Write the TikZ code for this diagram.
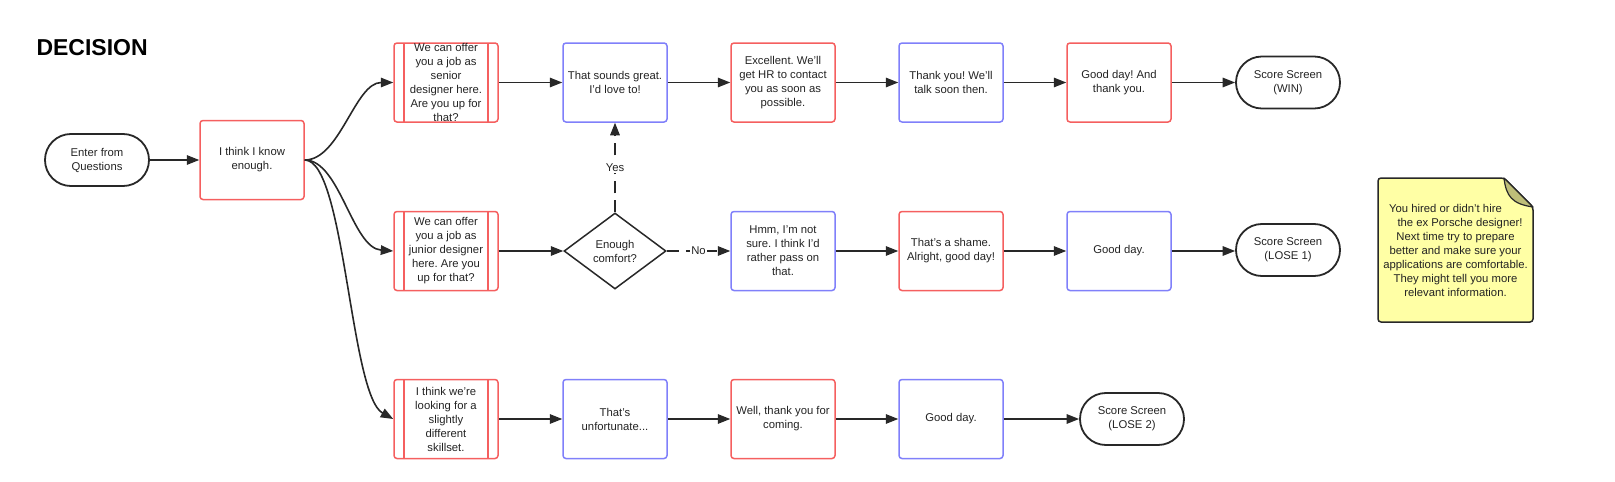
\documentclass[tikz,border=0pt]{standalone}
\usepackage{fontspec}
\setmainfont{Liberation Sans}
\usetikzlibrary{arrows.meta,shapes.geometric}
\definecolor{bred}{RGB}{245,95,95}
\definecolor{bblue}{RGB}{128,128,250}
\definecolor{ink}{RGB}{35,35,35}
\definecolor{edgec}{RGB}{40,40,40}
\definecolor{notefill}{RGB}{255,255,165}
\definecolor{foldfill}{RGB}{190,190,120}
\frenchspacing
\begin{document}
\begin{tikzpicture}[x=1pt,y=-1pt,
  font=\fontsize{11.3}{14}\selectfont, text=ink,
  box/.style={draw, line width=1.5pt, rounded corners=3pt, minimum width=104pt, minimum height=79pt, inner sep=0pt, align=center},
  rbox/.style={box, draw=bred},
  bbox/.style={box, draw=bblue},
  sbox/.style={rbox, path picture={\draw[bred,line width=1.5pt]
     ([xshift=10pt]path picture bounding box.north west) -- ([xshift=10pt]path picture bounding box.south west)
     ([xshift=-10pt]path picture bounding box.north east) -- ([xshift=-10pt]path picture bounding box.south east);}},
  term/.style={draw=edgec, line width=1.8pt, rounded corners=25.9pt, minimum width=104pt, minimum height=52pt, inner sep=0pt, align=center},
  dec/.style={diamond, aspect=1.34, draw=edgec, line width=1.5pt, minimum width=102pt, minimum height=76pt, inner sep=0pt, align=center},
  conn/.style={draw=edgec, line width=1.6pt, -{Triangle[length=12.5pt,width=9.5pt]}},
  dsh/.style={conn, dash pattern=on 12pt off 7pt},
  lbl/.style={fill=white, inner sep=1.5pt, text=ink}
]
\useasboundingbox (0,0) rectangle (1615,482);

\node[anchor=base west, font=\fontsize{23}{28}\selectfont\bfseries, text=black] (title) at (33,55) {DECISION};

% left part
\node[term] (enter) at (97,160) {Enter from\\Questions};
\node[rbox] (think) at (252,160) {I think I know\\enough.};

% column A
\node[sbox, label={[align=center, text=ink]center:We can offer\\you a job as\\senior\\designer here.\\Are you up for\\that?}] (a1) at (446,82.5) {};
\node[sbox] (a2) at (446,251) {We can offer\\you a job as\\junior designer\\here. Are you\\up for that?};
\node[sbox] (a3) at (446,419) {I think we're\\looking for a\\slightly\\different\\skillset.};

% row 1
\node[bbox] (b1) at (615,82.5) {That sounds great.\\I'd love to!};
\node[rbox] (c1) at (783,82.5) {Excellent. We'll\\get HR to contact\\you as soon as\\possible.};
\node[bbox] (d1) at (951,82.5) {Thank you! We'll\\talk soon then.};
\node[rbox] (e1) at (1119,82.5) {Good day! And\\thank you.};
\node[term] (f1) at (1288,82.5) {Score Screen\\(WIN)};

% row 2
\node[dec] (dia) at (615,251) {Enough\\comfort?};
\node[bbox] (c2) at (783,251) {Hmm, I'm not\\sure. I think I'd\\rather pass on\\that.};
\node[rbox] (d2) at (951,251) {That's a shame.\\Alright, good day!};
\node[bbox] (e2) at (1119,251) {Good day.};
\node[term] (f2) at (1288,250) {Score Screen\\(LOSE 1)};

% row 3
\node[bbox] (b3) at (615,419) {That's\\unfortunate...};
\node[rbox] (c3) at (783,419) {Well, thank you for\\coming.};
\node[bbox] (d3) at (951,419) {Good day.};
\node[term] (f3) at (1132,419) {Score Screen\\(LOSE 2)};

% note
\draw[edgec, fill=notefill, line width=1.5pt, rounded corners=3pt]
  (1504,178) -- (1378,178) -- (1378,322) -- (1533,322) -- (1533,207) -- cycle;
\draw[edgec, fill=foldfill, line width=1.2pt, line join=round]
  (1504,178) .. controls (1506,196) and (1512,204) .. (1533,207) -- cycle;
\node[align=center] (note) at (1455.5,250) {You hired or didn't hire\kern20pt\\\kern9pt the ex Porsche designer!\\Next time try to prepare\\better and make sure your\\applications are comfortable.\\They might tell you more\\relevant information.};

% connectors
\draw[conn] (enter.east) -- (think.west);
\draw[conn] (think.east) .. controls (340,160) and (355,82.5) .. (a1.west);
\draw[conn] (think.east) .. controls (340,160) and (352,248) .. (a2.west);
\draw[conn] (think.east) .. controls (345,160) and (350,395) .. (a3.west);

\draw[conn] (a1) -- (b1);
\draw[conn] (b1) -- (c1);
\draw[conn] (c1) -- (d1);
\draw[conn] (d1) -- (e1);
\draw[conn] (e1) -- (f1);

\draw[conn] (a2) -- (dia);
\draw[dsh] (dia.north) -- node[lbl]{Yes} (b1.south);
\draw[dsh] (dia.east) -- node[lbl]{No} (c2.west);
\draw[conn] (c2) -- (d2);
\draw[conn] (d2) -- (e2);
\draw[conn] (e2.east) -- (f2.west |- e2.east);

\draw[conn] (a3) -- (b3);
\draw[conn] (b3) -- (c3);
\draw[conn] (c3) -- (d3);
\draw[conn] (d3) -- (f3);
\end{tikzpicture}
\end{document}
